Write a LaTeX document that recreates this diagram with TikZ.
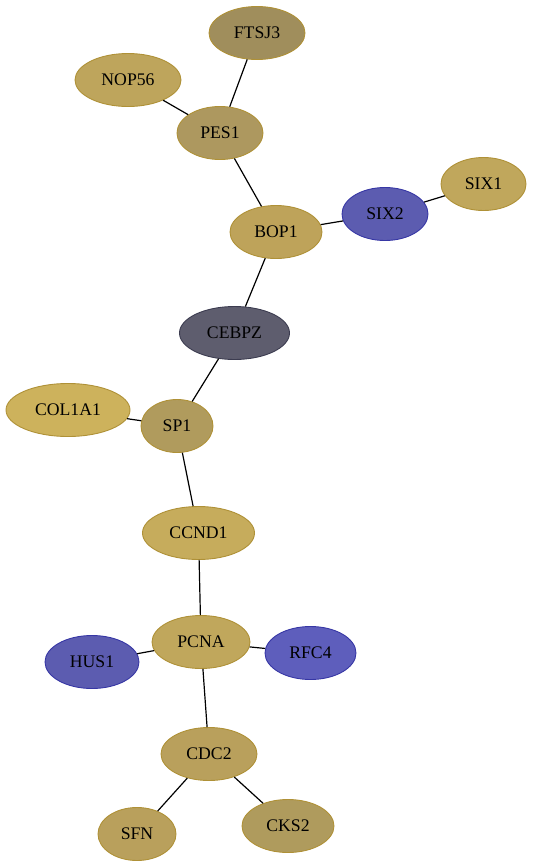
\documentclass[tikz,border=0pt]{standalone}
\usepackage{fontspec}
\setmainfont{Liberation Serif}
\usetikzlibrary{shapes.geometric}
\definecolor{cFTSJ}{RGB}{160,142,92}
\definecolor{cNOP}{RGB}{190,165,92}
\definecolor{cPES}{RGB}{173,152,95}
\definecolor{cSIXa}{RGB}{192,167,92}
\definecolor{cBlue}{RGB}{92,92,176}
\definecolor{cBlueB}{RGB}{94,94,188}
\definecolor{cBOP}{RGB}{190,163,90}
\definecolor{cCEB}{RGB}{94,93,110}
\definecolor{cCOL}{RGB}{205,178,92}
\definecolor{cSP}{RGB}{176,155,93}
\definecolor{cCCN}{RGB}{198,172,92}
\definecolor{cPCN}{RGB}{192,167,92}
\definecolor{cCDC}{RGB}{185,160,92}
\definecolor{cCKS}{RGB}{175,155,93}
\definecolor{bGold}{RGB}{175,145,55}
\definecolor{bBlue}{RGB}{55,55,165}
\definecolor{bGray}{RGB}{60,60,80}
\tikzset{
  gene/.style={ellipse, draw=bGold, line width=0.9pt, inner sep=0pt,
    minimum height=53pt, font=\fontsize{17.7}{20}\selectfont},
  bluegene/.style={gene, draw=bBlue},
  link/.style={draw=black, line width=1.2pt}
}
\begin{document}
\begin{tikzpicture}[x=1pt,y=-1pt]
\useasboundingbox (0,0) rectangle (533,868);
\node[gene, fill=cFTSJ, minimum width=96pt] (FTSJ3) at (257,33) {FTSJ3};
\node[gene, fill=cNOP, minimum width=106pt] (NOP56) at (128,80) {NOP56};
\node[gene, fill=cPES, minimum width=86pt] (PES1) at (220,133) {PES1};
\node[gene, fill=cSIXa, minimum width=85pt] (SIX1) at (483.5,184) {SIX1};
\node[bluegene, fill=cBlue, minimum width=86pt] (SIX2) at (385,214) {SIX2};
\node[gene, fill=cBOP, minimum width=92pt] (BOP1) at (276,232) {BOP1};
\node[gene, draw=bGray, fill=cCEB, minimum width=110pt] (CEBPZ) at (234.5,333) {CEBPZ};
\node[gene, fill=cCOL, minimum width=124pt] (COL1A1) at (68,410) {COL1A1};
\node[gene, fill=cSP, minimum width=72pt] (SP1) at (177,426) {SP1};
\node[gene, fill=cCCN, minimum width=112pt] (CCND1) at (198.5,533) {CCND1};
\node[gene, fill=cPCN, minimum width=98pt] (PCNA) at (201,642) {PCNA};
\node[bluegene, fill=cBlue, minimum width=94pt] (HUS1) at (92,662) {HUS1};
\node[bluegene, fill=cBlueB, minimum width=91pt] (RFC4) at (310.5,653) {RFC4};
\node[gene, fill=cCDC, minimum width=96pt] (CDC2) at (209,754) {CDC2};
\node[gene, fill=cCDC, minimum width=78pt] (SFN) at (137,834) {SFN};
\node[gene, fill=cCKS, minimum width=92pt] (CKS2) at (288,826) {CKS2};
\draw[link] (FTSJ3) -- (PES1);
\draw[link] (NOP56) -- (PES1);
\draw[link] (PES1) -- (BOP1);
\draw[link] (BOP1) -- (SIX2);
\draw[link] (SIX2) -- (SIX1);
\draw[link] (BOP1) -- (CEBPZ);
\draw[link] (CEBPZ) -- (SP1);
\draw[link] (COL1A1) -- (SP1);
\draw[link] (SP1) -- (CCND1);
\draw[link] (CCND1) -- (PCNA);
\draw[link] (HUS1) -- (PCNA);
\draw[link] (PCNA) -- (RFC4);
\draw[link] (PCNA) -- (CDC2);
\draw[link] (CDC2) -- (SFN);
\draw[link] (CDC2) -- (CKS2);
\end{tikzpicture}
\end{document}
